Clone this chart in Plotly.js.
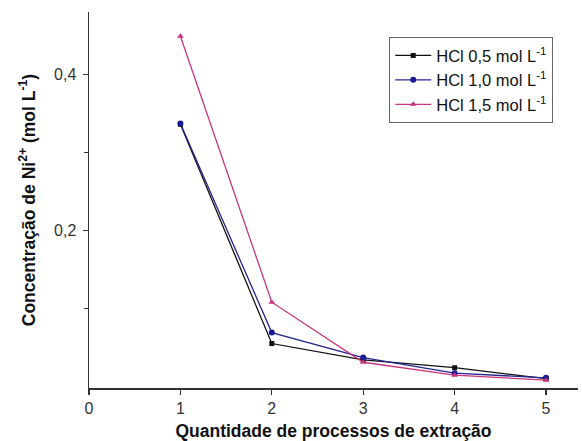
<!DOCTYPE html>
<html>
<head>
<meta charset="utf-8">
<script src="https://cdn.plot.ly/plotly-3.0.1.min.js"></script>
<style>html,body{margin:0;padding:0;background:#fff;}#chart{width:582px;height:441px;}</style>
</head>
<body>
<div id="chart"></div>
<script>
const extractions = [1, 2, 3, 4, 5];
const hcl05 = [0.336, 0.055, 0.034, 0.024, 0.010];
const hcl10 = [0.337, 0.069, 0.037, 0.017, 0.011];
const hcl15 = [0.449, 0.108, 0.031, 0.0145, 0.008];
const seriesNames = ["HCl 0,5 mol L<sup>-1</sup>", "HCl 1,0 mol L<sup>-1</sup>", "HCl 1,5 mol L<sup>-1</sup>"];
const xTickVals = [0, 1, 2, 3, 4, 5];
const xTickText = ["0", "1", "2", "3", "4", "5"];
const yTickVals = [0.2, 0.4];
const yTickText = ["0,2", "0,4"];

const font = "Liberation Sans, Arial, sans-serif";
const traces = [
  {x: extractions, y: hcl05, name: seriesNames[0], mode: "lines+markers",
   line: {color: "#111111", width: 1.3}, marker: {symbol: "square", size: 5, color: "#111111"}},
  {x: extractions, y: hcl10, name: seriesNames[1], mode: "lines+markers",
   line: {color: "#25258f", width: 1.3}, marker: {symbol: "circle", size: 6, color: "#1a1a96"}},
  {x: extractions, y: hcl15, name: seriesNames[2], mode: "lines+markers",
   line: {color: "#c9347f", width: 1.3}, marker: {symbol: "triangle-up", size: 6, color: "#c9347f"}}
];
const layout = {
  width: 582, height: 441,
  margin: {l: 89, r: 4, t: 12, b: 53},
  paper_bgcolor: "#ffffff", plot_bgcolor: "#ffffff",
  font: {family: font, size: 15, color: "#222"},
  showlegend: true,
  legend: {x: 0.614, y: 0.933, xanchor: "left", yanchor: "top",
    bordercolor: "#666", borderwidth: 1, bgcolor: "#fff",
    font: {family: font, size: 16.5, color: "#111"}, tracegroupgap: 0, itemwidth: 36},
  xaxis: {range: [0, 5.35], tickvals: xTickVals, ticktext: xTickText,
    showgrid: false, zeroline: false, showline: true, linecolor: "#333", linewidth: 1.5,
    ticks: "outside", ticklen: 5, tickcolor: "#333", tickwidth: 1.3,
    tickfont: {family: font, size: 16, color: "#333"},
    title: {text: "<b>Quantidade de processos de extração</b>", standoff: 11,
      font: {family: font, size: 17.5, color: "#111"}}},
  yaxis: {range: [-0.002, 0.48], tickvals: yTickVals, ticktext: yTickText,
    showgrid: false, zeroline: false, showline: true, linecolor: "#333", linewidth: 1.5,
    ticks: "outside", ticklen: 5, tickcolor: "#333", tickwidth: 1.3, ticklabelstandoff: 3,
    tickfont: {family: font, size: 16, color: "#333"},
    minor: {tickvals: [0.1, 0.3], ticks: "outside", ticklen: 4, tickcolor: "#333", tickwidth: 1.2, showgrid: false},
    title: {text: "<b>Concentração de Ni<sup>2+</sup> (mol L<sup>-1</sup>)</b>", standoff: 14,
      font: {family: font, size: 17.5, color: "#111"}}}
};
Plotly.newPlot("chart", traces, layout, {displayModeBar: false, staticPlot: true});
</script>
</body>
</html>
